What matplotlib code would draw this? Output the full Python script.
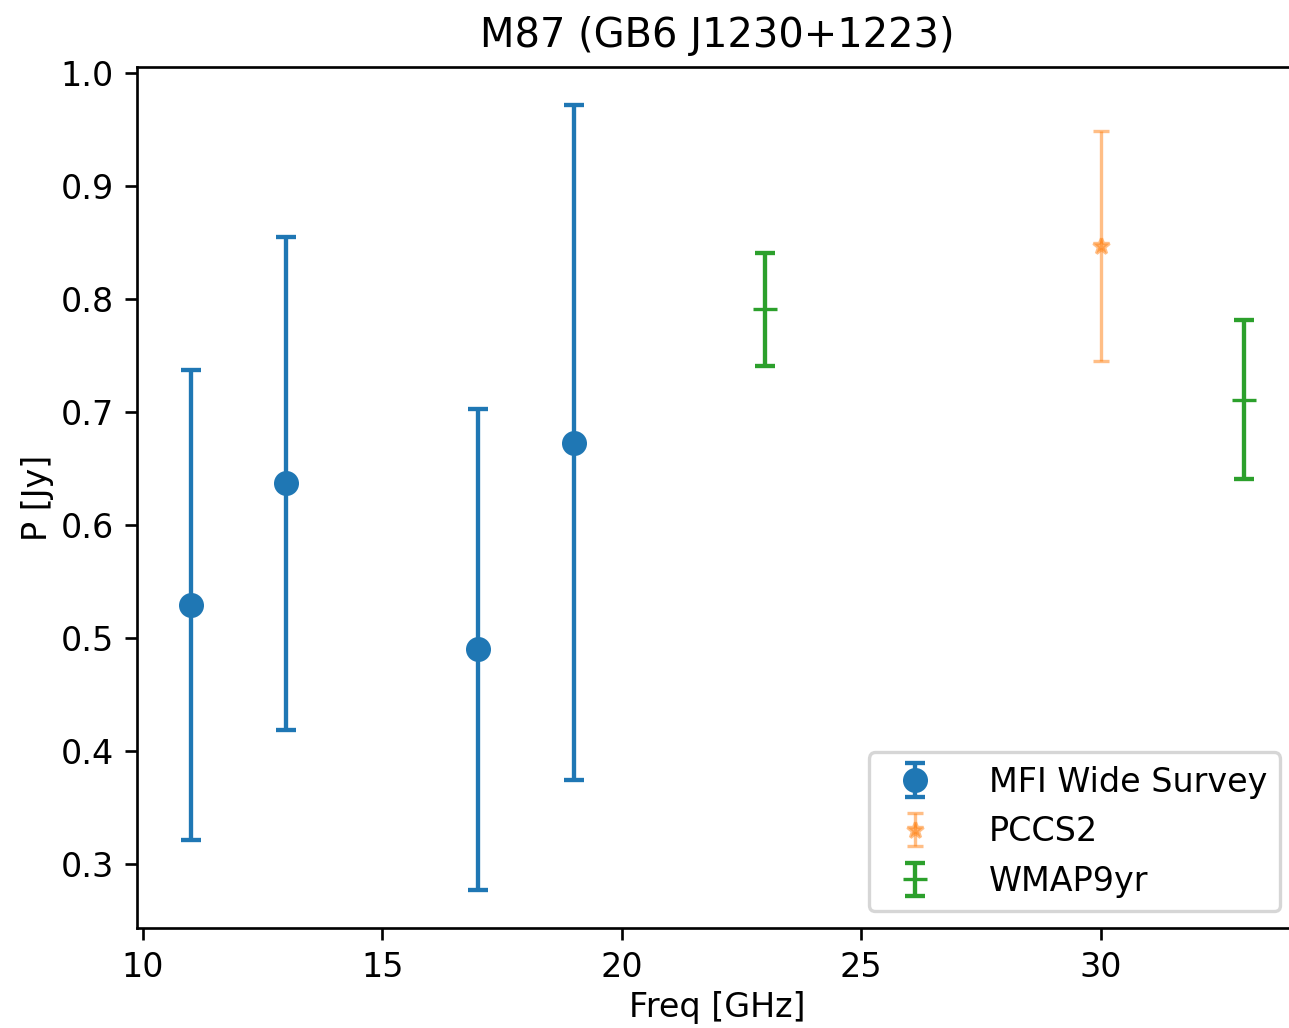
import numpy as np
import matplotlib.pyplot as plt

# ── Data ──────────────────────────────────────────────────────
mfi_freq = [11, 13, 17, 19]
mfi_p = [0.529, 0.637, 0.490, 0.673]
mfi_err = [0.208, 0.218, 0.213, 0.299]

pccs_freq = [30]
pccs_p = [0.847]
pccs_err = [0.102]

wmap_freq = [23, 33]
wmap_p = [0.791, 0.711]
wmap_err = [0.050, 0.070]

# ── Plot ──────────────────────────────────────────────────────
dpi = 240
fig = plt.figure(figsize=(1289 / dpi, 1028 / dpi), dpi=dpi)
ax = fig.add_axes([137 / 1289, 100 / 1028, 1160 / 1289, 861 / 1028])

ax.errorbar(mfi_freq, mfi_p, yerr=mfi_err, fmt="o", color="C0",
            markersize=6.5, capsize=3, elinewidth=1.3, capthick=1.3,
            label="MFI Wide Survey")
ax.errorbar(pccs_freq, pccs_p, yerr=pccs_err, fmt="*", color="C1",
            markersize=5, capsize=2.5, elinewidth=1.0, alpha=0.5,
            label="PCCS2")
ax.errorbar(wmap_freq, wmap_p, yerr=wmap_err, fmt="_", color="C2",
            markersize=7, capsize=3, elinewidth=1.3, capthick=1.3,
            label="WMAP9yr")

ax.set_xlim(9.88, 34.1)
ax.set_ylim(0.2434, 1.0053)
ax.set_xlabel("Freq [GHz]", labelpad=2)
ax.set_ylabel("P [Jy]", labelpad=2)
ax.set_title("M87 (GB6 J1230+1223)")
ax.legend(loc="lower right", handletextpad=1.2)

plt.savefig("out.png", dpi=dpi)
